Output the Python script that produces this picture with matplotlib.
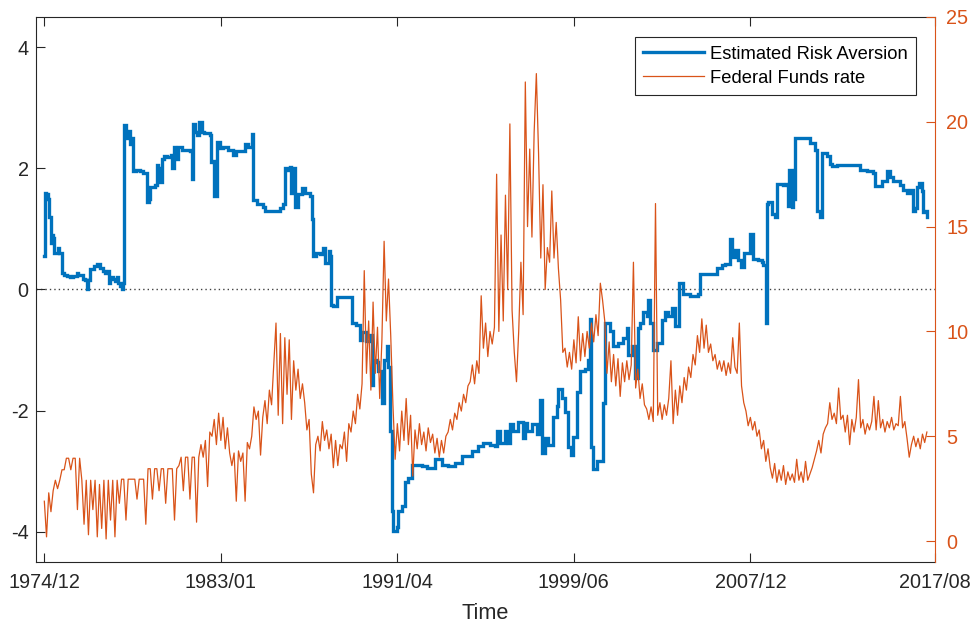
import matplotlib
matplotlib.use('Agg')
import matplotlib.pyplot as plt
import numpy as np

plt.rcParams['font.family'] = ['Liberation Sans', 'DejaVu Sans']

# ---------------- data ----------------
# Estimated risk aversion: observation index and value at each breakpoint
ra_obs = [0, 5, 19, 42, 57, 73, 82, 99, 110, 133, 155, 167, 195, 223, 257, 291, 325, 365,
          382, 438, 461, 478, 495, 523, 563, 597, 631, 665, 688, 716, 733, 744, 778, 801,
          823, 835, 858, 880, 897, 906, 926, 937, 948, 971, 988, 1005, 1039, 1084, 1118,
          1158, 1169, 1186, 1198, 1254, 1271, 1288, 1305, 1328, 1356, 1390, 1436, 1452,
          1469, 1486, 1498, 1515, 1560, 1651, 1668, 1685, 1707, 1730, 1758, 1781, 1809,
          1877, 1889, 1911, 1928, 1951, 1991, 2025, 2081, 2138, 2172, 2251, 2274, 2308,
          2353, 2364, 2410, 2478, 2501, 2558, 2637, 2671, 2705, 2727, 2761, 2778, 2795,
          2818, 2840, 2874, 2920, 2954, 3010, 3033, 3044, 3078, 3124, 3158, 3180, 3220,
          3237, 3248, 3271, 3305, 3316, 3464, 3486, 3532, 3577, 3600, 3645, 3690, 3709,
          3724, 3770, 3781, 3823, 3852, 3879, 3897, 3917, 3936, 3954, 3993, 4011, 4049,
          4087, 4124, 4163, 4276, 4333, 4427, 4502, 4577, 4653, 4729, 4842, 4917, 4974,
          5050, 5106, 5126, 5163, 5220, 5257, 5276, 5314, 5370, 5409, 5424, 5441, 5466,
          5522, 5579, 5616, 5636, 5673, 5710, 5767, 5805, 5824, 5862, 5899, 5937, 5967,
          5994, 6032, 6069, 6126, 6164, 6183, 6194, 6220, 6259, 6315, 6333, 6352, 6409,
          6447, 6504, 6560, 6599, 6617, 6655, 6693, 6723, 6749, 6787, 6826, 6844, 6863,
          6900, 6939, 6995, 7032, 7070, 7108, 7146, 7183, 7195, 7240, 7316, 7410, 7429,
          7523, 7618, 7675, 7712, 7769, 7788, 7826, 7863, 7894, 7931, 7996, 8033, 8090,
          8129, 8147, 8174, 8188, 8205, 8241, 8279, 8302, 8369, 8403, 8426, 8437, 8449,
          8468, 8483, 8505, 8675, 8732, 8749, 8755, 8789, 8812, 8869, 8903, 8925, 8982,
          9209, 9242, 9322, 9390, 9412, 9492, 9548, 9582, 9616, 9695, 9729, 9775, 9809,
          9843, 9866, 9888, 9911, 9945, 9956, 9979, 10001]
ra_val = [0.55, 1.6, 1.58, 1.5, 1.2, 0.77, 0.9, 0.85, 0.6, 0.6, 0.68, 0.6, 0.28, 0.24, 0.22,
          0.2, 0.22, 0.27, 0.24, 0.18, 0.15, 0.0, 0.16, 0.34, 0.38, 0.42, 0.36, 0.3, 0.27,
          0.3, 0.11, 0.2, 0.18, 0.14, 0.2, 0.11, 0.06, 0.0, 0.1, 2.72, 2.6, 2.5, 2.62, 2.4,
          2.5, 1.95, 1.98, 1.96, 1.93, 1.88, 1.45, 1.5, 1.7, 1.73, 2.06, 2.0, 1.78, 2.15,
          2.2, 2.18, 2.22, 2.0, 2.35, 2.3, 2.15, 2.35, 2.3, 2.28, 1.82, 2.74, 2.6, 2.55,
          2.76, 2.6, 2.58, 2.55, 2.1, 2.12, 1.54, 2.44, 2.33, 2.36, 2.3, 2.22, 2.28, 2.28,
          2.4, 2.35, 2.56, 1.48, 1.42, 1.37, 1.29, 1.3, 1.3, 1.35, 1.42, 2.0, 1.97, 2.03,
          1.59, 2.0, 1.37, 1.57, 1.67, 1.6, 1.55, 1.16, 0.55, 0.6, 0.58, 0.68, 0.43, 0.63,
          0.55, -0.25, -0.27, -0.27, -0.13, -0.13, -0.55, -0.58, -0.83, -0.7, -0.85, -0.75,
          -1.58, -1.17, -1.2, -1.35, -1.87, -1.17, -0.94, -1.28, -2.33, -3.65, -3.99,
          -3.93, -3.65, -3.58, -3.18, -3.12, -2.9, -2.92, -2.95, -2.8, -2.9, -2.91, -2.86,
          -2.75, -2.67, -2.58, -2.53, -2.57, -2.58, -2.33, -2.53, -2.33, -2.53, -2.22,
          -2.33, -2.18, -2.18, -2.45, -2.2, -2.33, -2.22, -2.39, -1.83, -2.7, -2.45, -2.56,
          -2.1, -1.92, -1.64, -1.8, -2.02, -2.6, -2.73, -2.43, -1.69, -1.35, -1.32, -1.17,
          -0.49, -2.6, -2.96, -2.83, -2.83, -1.87, -0.55, -0.68, -0.94, -0.89, -0.8, -0.63,
          -1.08, -0.94, -1.46, -0.63, -0.55, -0.37, -0.43, -0.17, -0.55, -1.0, -0.89, -0.5,
          -0.37, -0.43, -0.31, -0.6, -0.6, 0.11, -0.08, -0.11, -0.08, 0.26, 0.26, 0.35,
          0.4, 0.42, 0.83, 0.54, 0.66, 0.48, 0.37, 0.6, 0.92, 0.5, 0.48, 0.45, 0.4, -0.55,
          1.41, 1.45, 1.24, 1.2, 1.75, 1.72, 1.75, 1.38, 1.98, 1.98, 1.37, 1.5, 2.5, 2.42,
          2.31, 2.3, 1.3, 1.19, 2.25, 2.2, 2.08, 2.04, 2.06, 2.06, 1.97, 1.95, 1.93, 1.71,
          1.79, 1.95, 1.85, 1.79, 1.73, 1.65, 1.6, 1.65, 1.29, 1.35, 1.7, 1.76, 1.62, 1.28,
          1.3, 1.19]

# Federal funds rate, one reading every 25 observations
ffr_step = 25
ffr = [1.9, 0.2, 2.3, 1.4, 2.4, 2.9, 2.5, 2.9, 3.4, 3.4,
       3.95, 3.95, 3.4, 3.95, 3.95, 1.5, 3.95,
       2.9, 0.8, 2.9, 0.3, 2.9, 1.5, 2.9, 0.2, 2.7, 0.6, 2.9, 0.1, 2.9, 1.0, 2.9, 0.2, 2.9, 1.8,
       2.95, 2.95, 1.0, 2.95, 2.95, 2.95, 2.95, 2.0, 2.95, 2.95, 2.95, 0.8,
       3.45, 3.45, 2.0, 3.45, 3.45, 2.4, 3.45, 3.45, 1.8, 3.45, 3.45, 3.45, 1.0, 3.45,
       3.6, 4.0, 2.4, 4.0, 4.0, 2.0, 4.0, 4.0, 0.9, 4.0,
       4.6, 4.0, 4.8, 2.6, 5.2,
       5.0, 5.8, 4.6, 6.1, 4.8, 5.9, 4.4, 5.4,
       4.2, 3.6, 4.2, 1.9, 4.3, 3.8, 4.2, 1.9,
       4.7, 4.4, 5.0,
       6.4, 5.8, 6.2, 4.1, 5.9,
       6.7, 5.6, 7.2, 6.5,
       8.5, 10.4, 6.0, 9.9, 5.6, 9.7, 7.0, 9.6, 5.8,
       8.6, 7.2, 8.2, 6.8, 7.5,
       6.6, 5.3, 5.8,
       3.2, 2.3, 4.6,
       5.0, 4.3, 5.7, 4.8,
       5.3, 4.4, 5.1,
       3.5, 4.8, 3.6, 4.6,
       4.4, 5.2, 3.8, 5.6,
       5.2, 6.2, 5.6, 7.0, 6.3, 7.5,
       12.9, 8.0, 10.5,
       7.2, 11.4, 8.0, 10.2, 6.8, 9.6,
       14.3, 10.5, 12.5,
       9.8, 6.5, 3.9,
       5.6, 4.3, 6.2, 4.8, 6.8, 4.6, 6.0, 3.1,
       5.3, 4.4, 5.6, 4.6, 5.2, 4.3, 5.4, 4.7, 5.1, 4.2, 4.9, 4.0,
       4.8, 4.2, 5.0,
       5.2, 5.8, 5.3, 6.1, 5.8, 6.6, 6.2, 7.0, 6.6, 7.4,
       7.6, 8.4, 7.5, 8.6, 8.0,
       11.7, 9.2, 10.4, 8.8, 10.0,
       9.4, 10.2,
       17.5, 10.0,
       14.6, 10.5,
       16.5, 12.0, 19.9,
       11.0, 9.0, 7.6, 10.0,
       13.3, 10.8,
       21.9,
       15.0, 18.7, 14.5,
       19.5, 22.3, 18.5,
       13.5, 17.0,
       12.0, 14.0,
       13.3, 16.7,
       13.5, 15.2, 13.0,
       11.5, 9.0,
       9.2, 8.3, 9.0, 8.2,
       9.6, 8.5, 10.7, 8.6, 9.9, 8.8,
       10.0, 9.2, 10.4, 9.5, 10.8, 9.8,
       12.3, 11.5,
       10.5, 8.0, 9.5,
       7.6, 8.9, 7.4, 8.7, 6.9, 8.5, 7.6,
       8.6, 7.7, 8.4, 13.3,
       7.3, 8.2, 6.8,
       7.5, 6.5,
       6.3, 5.8, 6.4, 5.7,
       16.1,
       6.0, 6.6, 5.8, 6.5, 6.0, 6.8,
       8.6, 5.6, 7.2, 6.0,
       7.4, 6.6, 7.8, 7.2, 8.3, 7.8, 8.9, 8.4,
       9.8, 9.0, 10.6, 9.2, 10.3,
       9.0, 9.4, 8.6, 8.9, 8.2, 8.6,
       8.1, 8.6, 7.9, 8.5, 8.0, 9.7,
       8.3, 8.0, 10.4, 7.4, 6.6,
       6.2, 5.5, 5.9, 5.3, 5.7,
       5.0, 5.3, 4.4, 4.8, 3.8, 4.4,
       3.5, 3.0, 3.7, 2.8, 3.4, 2.9, 3.6, 2.7, 3.3, 2.9,
       3.2, 2.8, 3.9, 2.9, 3.3, 2.8, 3.8, 2.9, 3.2, 3.5,
       3.9, 4.3,
       4.8, 4.2, 5.1, 5.4,
       5.6, 6.6, 5.8,
       6.1, 5.6, 7.3, 5.8, 6.0, 5.2, 6.0,
       4.6, 5.8,
       5.2, 5.9,
       7.7,
       5.4, 5.8, 5.1, 5.6, 5.3, 5.7, 6.9, 5.3,
       6.7, 5.4, 5.8, 5.2, 5.7, 5.4, 5.9, 5.3, 5.6, 5.5, 6.9, 5.4, 5.7,
       4.9, 4.0, 4.6,
       5.0, 4.5, 4.9, 4.4, 5.1, 4.7, 5.2]

tick_obs = [0, 2000, 4000, 6000, 8000, 10092]
tick_labels = ['1974/12', '1983/01', '1991/04', '1999/06', '2007/12', '2017/08']
left_ticks = [-4, -2, 0, 2, 4]
right_ticks = [0, 5, 10, 15, 20, 25]

# ---------------- plot ----------------
blue = '#0072BD'
orange = '#D95319'
dark = '#262626'

fig = plt.figure(figsize=(9.74, 6.26), dpi=100)
ax = fig.add_axes([0.03645, 0.10224, 0.92351, 0.87061])
ax2 = ax.twinx()

ax.axhline(0, color='#404040', lw=1.0, ls=(0, (1, 2.2)), zorder=1)
l1, = ax.plot(ra_obs, ra_val, color=blue, lw=2.4, drawstyle='steps-post',
              solid_joinstyle='miter', zorder=2)
x_ffr = np.arange(len(ffr)) * ffr_step
l2, = ax2.plot(x_ffr, ffr, color=orange, lw=0.9)

ax.set_xlim(-100, 10092)
ax.set_ylim(-4.5, 4.5)
ax2.set_ylim(-1, 25)

ax.set_xticks(tick_obs)
ax.set_xticklabels(tick_labels)
ax.set_yticks(left_ticks)
ax.set_yticklabels([str(t) for t in left_ticks])
ax2.set_yticks(right_ticks)
ax2.set_yticklabels([str(t) for t in right_ticks])

ax.tick_params(axis='x', direction='in', length=6.5, width=0.8, top=True,
               labelsize=14.3, colors=dark, pad=8)
ax.tick_params(axis='y', direction='in', length=6.5, width=0.8, right=False,
               labelsize=14.3, colors=dark, pad=5)
ax2.tick_params(axis='y', direction='in', length=6.5, width=0.8,
                labelsize=14.3, colors=orange, pad=8)

for s in ['left', 'bottom', 'top']:
    ax.spines[s].set_color(dark)
    ax.spines[s].set_linewidth(0.8)
    ax2.spines[s].set_visible(False)
ax.spines['right'].set_visible(False)
ax2.spines['right'].set_color(orange)
ax2.spines['right'].set_linewidth(0.8)

ax.set_xlabel('Time', fontsize=15.7, color=dark, labelpad=8)

leg = ax2.legend([l1, l2], ['Estimated Risk Aversion', 'Federal Funds rate'],
                 loc='upper right', bbox_to_anchor=(0.9789, 0.9628), borderaxespad=0,
                 fontsize=13.2, frameon=True, fancybox=False, framealpha=1,
                 edgecolor=dark, handlelength=3.3, handletextpad=0.35,
                 borderpad=0.45, labelspacing=0.4)
leg.get_frame().set_linewidth(0.8)

fig.savefig('out.png', dpi=100)
